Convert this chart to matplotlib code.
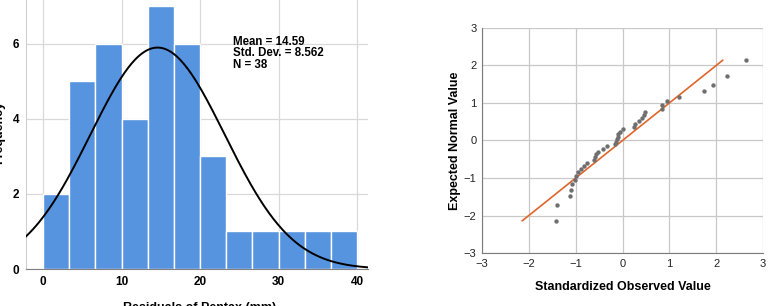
import numpy as np
import matplotlib
matplotlib.use("Agg")
import matplotlib.pyplot as plt

plt.rcParams["font.family"] = ["Liberation Sans", "DejaVu Sans"]

# histogram of residuals
hist_counts = [2, 5, 6, 4, 7, 6, 3, 1, 1, 1, 1, 1]
hist_lo, hist_hi = 0, 40
res_mean = 14.59
res_sd = 8.562
res_n = 38

# normal Q-Q plot
observed = [-1.41, -1.39, -1.12, -1.09, -1.08, -1.02, -0.99, -0.96, -0.88, -0.82,
            -0.76, -0.60, -0.59, -0.56, -0.52, -0.42, -0.33, -0.15, -0.13, -0.12,
            -0.10, -0.09, -0.06, 0.01, 0.25, 0.26, 0.36, 0.41, 0.45, 0.49,
            0.84, 0.85, 0.96, 1.20, 1.75, 1.94, 2.23, 2.64]
expected = [-2.14, -1.72, -1.49, -1.31, -1.17, -1.05, -0.94, -0.84, -0.75, -0.67,
            -0.59, -0.51, -0.44, -0.37, -0.30, -0.23, -0.16, -0.10, -0.03, 0.03,
            0.10, 0.16, 0.23, 0.30, 0.37, 0.44, 0.51, 0.59, 0.67, 0.75,
            0.84, 0.94, 1.05, 1.17, 1.31, 1.49, 1.72, 2.14]

W, H = 771, 306
fig = plt.figure(figsize=(W / 100, H / 100), dpi=100)

# ---- left: histogram ----
ax1 = fig.add_axes([26 / W, (H - 269) / H, 342 / W, 269 / H])
edges = np.linspace(hist_lo, hist_hi, len(hist_counts) + 1)
bw = edges[1] - edges[0]
ax1.bar(edges[:-1], hist_counts, width=bw, align="edge", color="#5694e0",
        edgecolor="white", linewidth=1, zorder=2)
xs = np.linspace(-2.2, 41.5, 300)
pdf = res_n * bw / (res_sd * np.sqrt(2 * np.pi)) * np.exp(-0.5 * ((xs - res_mean) / res_sd) ** 2)
ax1.plot(xs, pdf, color="black", lw=1.4, zorder=3)
ax1.set_xlim(-2.17, 41.4)
ax1.set_ylim(0, 7.17)
ax1.set_xticks([0, 10, 20, 30, 40])
ax1.set_yticks([0, 2, 4, 6])
ax1.grid(True, color="#d9d9d9", lw=0.9, zorder=0)
ax1.set_axisbelow(True)
for s in ["top", "right"]:
    ax1.spines[s].set_visible(False)
ax1.spines["left"].set_color("#d0d0d0")
ax1.spines["bottom"].set_color("#808080")
ax1.tick_params(length=0, labelsize=8.5, pad=5)
for lab in ax1.get_xticklabels() + ax1.get_yticklabels():
    lab.set_fontweight("bold")
ax1.text(24.2, 6.22, "Mean = %.2f\nStd. Dev. = %.3f\nN = %d" % (res_mean, res_sd, res_n),
         fontsize=8.3, fontweight="bold", va="top", ha="left", linespacing=0.95)
# the reference crops these two labels at the picture's edges
fig.text(5 / W, 1 - 132 / H, "Frequency", rotation=90, ha="right", va="center",
         fontsize=9, fontweight="bold")
fig.text(200 / W, 1 - 308 / H, "Residuals of Pentax (mm)", ha="center", va="center",
         fontsize=9, fontweight="bold")

# ---- right: Q-Q plot ----
ax2 = fig.add_axes([482 / W, (H - 253) / H, 281 / W, 225 / H])
ax2.plot([min(expected), max(expected)], [min(expected), max(expected)],
         color="#e0652a", lw=1.2, zorder=2)
ax2.scatter(observed, expected, s=10, color="#6f6f6f", zorder=3, linewidths=0)
ax2.set_xlim(-3, 3)
ax2.set_ylim(-3, 3)
ax2.set_xticks(range(-3, 4))
ax2.set_yticks(range(-3, 4))
ax2.grid(True, color="#c8c8c8", lw=0.9, zorder=0)
ax2.set_axisbelow(True)
for s in ["top", "right"]:
    ax2.spines[s].set_visible(False)
ax2.spines["left"].set_color("#7a7a7a")
ax2.spines["bottom"].set_color("#7a7a7a")
ax2.tick_params(length=0, labelsize=8, pad=4, colors="#222222")
ax2.set_xlabel("Standardized Observed Value", fontsize=9, fontweight="bold", labelpad=9)
ax2.set_ylabel("Expected Normal Value", fontsize=9, fontweight="bold", labelpad=2)

fig.savefig("out.png", dpi=100)
